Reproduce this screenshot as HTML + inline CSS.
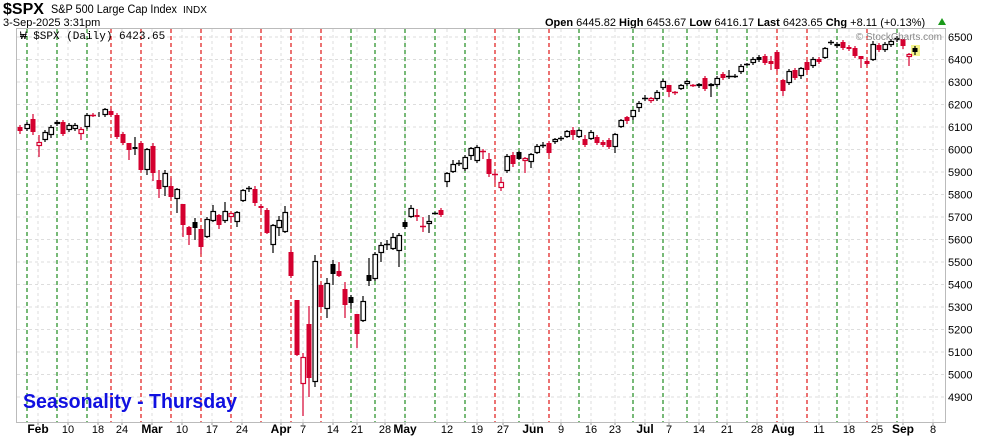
<!DOCTYPE html>
<html><head><meta charset="utf-8"><style>
html,body{margin:0;padding:0;background:#fff;}
svg{display:block;font-family:"Liberation Sans",Arial,sans-serif;}
</style></head><body>
<svg id="c" width="990" height="438" xmlns="http://www.w3.org/2000/svg">
<rect width="990" height="438" fill="#fff"/>
<text x="3" y="14" font-size="16" font-weight="bold">$SPX</text>
<text x="51" y="13" font-size="11.5" textLength="126" lengthAdjust="spacingAndGlyphs">S&amp;P 500 Large Cap Index</text>
<text x="183" y="13" font-size="10">INDX</text>
<text x="3" y="26" font-size="11">3-Sep-2025 3:31pm</text>
<text x="545" y="26" font-size="11"><tspan font-weight="bold">Open</tspan> 6445.82 <tspan font-weight="bold">High</tspan> 6453.67 <tspan font-weight="bold">Low</tspan> 6416.17 <tspan font-weight="bold">Last</tspan> 6423.65 <tspan font-weight="bold">Chg</tspan> +8.11 (+0.13%)</text>
<polygon points="938,25 946,25 942,18" fill="#1a9a1a"/>
<g id="grid"></g>
<g id="candles"></g>
<rect x="16.5" y="28.5" width="929" height="394" fill="none" stroke="#bbb"/>
<text x="20" y="39" font-size="11" font-family="Liberation Mono,monospace">₩ $SPX (Daily) 6423.65</text>
<text x="942" y="40" font-size="10" fill="#888" text-anchor="end">© StockCharts.com</text>
<text x="23" y="408" font-size="20" font-weight="bold" fill="#1010e0" textLength="214" lengthAdjust="spacingAndGlyphs">Seasonality - Thursday</text>
</svg>
<script>
var NS="http://www.w3.org/2000/svg";
function el(p,t,a,txt){var e=document.createElementNS(NS,t);for(var k in a)e.setAttribute(k,a[k]);if(txt)e.textContent=txt;p.appendChild(e);return e;}
var g=document.getElementById('grid'),svg=document.getElementById('c');
function Y(p){return 37+(6500-p)*0.225;}
for(var p=4900;p<=6500;p+=100){var y=Y(p);el(g,'line',{x1:17,x2:945,y1:y,y2:y,stroke:'#ddd','stroke-dasharray':'3,3'});
el(svg,'text',{x:948,y:y+4,'font-size':11},String(p));}
var labs=[[38,'Feb',1],[68,'10'],[98,'18'],[122,'24'],[152,'Mar',1],[182,'10'],[212,'17'],[242,'24'],[281,'Apr',1],[303,'7'],[333,'14'],[357,'21'],[385,'28'],[405,'May',1],[447,'12'],[477,'19'],[503,'27'],[533,'Jun',1],[561,'9'],[591,'16'],[615,'23'],[645,'Jul',1],[669,'7'],[699,'14'],[727,'21'],[757,'28'],[783,'Aug',1],[819,'11'],[849,'18'],[877,'25'],[903,'Sep',1],[933,'8']];
labs.forEach(function(l){el(g,'line',{x1:l[0],x2:l[0],y1:29,y2:422,stroke:'#ddd','stroke-dasharray':'3,3'});
el(svg,'text',{x:l[0],y:433,'font-size':l[2]?12:11,'font-weight':l[2]?'bold':'normal','text-anchor':'middle'},l[1]);
el(g,'line',{x1:l[0],x2:l[0],y1:422,y2:425,stroke:'#999'});});
var gr=[27,57,87,351,375,405,435,465,519,579,633,663,687,717,747,837,897],rd=[111,141,171,201,231,261,291,321,495,549,777,807,867];
gr.forEach(function(x){el(g,'line',{x1:x,x2:x,y1:29,y2:422,stroke:'#0a800a','stroke-dasharray':'4,3','stroke-width':1.1});});
rd.forEach(function(x){el(g,'line',{x1:x,x2:x,y1:29,y2:422,stroke:'#dd0000','stroke-dasharray':'4,3','stroke-width':1.1});});
var C=[
[20,127,131,'fr',125,134],[27,124,129,'hb'],[33,119,132,'fr',114,135],[39,142,146,'hr',135,157],[45,132,140,'hb',130,142],[51,127,135,'hb',125,138],[57,122,124,'hb'],[63,122,134,'fr'],[69,125,130,'hb'],[75,125,129,'hb'],[81,129,134,'hr',127,140],[87,115,127,'hb'],[93,115,115,'hr',113,117],[99,113,114,'hb',112,117],[105,109,115,'hb',108,117],
[111,111,115,'fr'],[117,115,137,'fr'],[123,134,143,'fr'],[129,143,150,'fr',143,160],[135,147,149,'fb',137,155],[141,143,170,'fr'],[147,149,170,'hb',148,175],[153,146,173,'fr',143,181],[159,180,189,'fr',170,198],[165,173,187,'hb',170,196],[171,186,197,'fr',178,199],[177,189,199,'hb',188,213],[183,204,225,'fr',204,237],[189,227,235,'fr',226,245],[195,222,228,'fb',218,240],[201,229,247,'fr',229,254],[207,219,237,'hb',217,238],[213,211,221,'hb',205,222],[219,215,225,'fr',214,229],[225,211,221,'hb',202,223],[231,213,217,'hr',213,223],[237,212,222,'hb',211,227],[243,190,201,'hb',189,202],[249,188,188,'fb',186,192],[255,189,203,'fr',186,206],[261,206,208,'fr',204,212],[267,210,233,'fr',208,234],[273,225,245,'hb',224,253],[279,220,228,'hb',216,236],[285,212,232,'hb',206,233],
[291,252,276,'fr'],[297,300,355,'fr',300,356],[303,357,384,'hr',353,416],[309,324,378,'fr',306,397],[315,261,382,'hb',255,387],[321,285,307,'fr'],[327,283,309,'hb',278,318],[333,264,274,'fb',260,285],[339,271,276,'fr',262,277],[345,289,305,'fr',282,318],[351,297,303,'fb',295,309],[357,314,334,'fr',314,348],[363,301,321,'hb',296,322],[369,275,281,'fb',258,286],[375,254,279,'hb'],[381,245,253,'hb',242,262],[387,244,244,'fb',240,250],[393,237,249,'hb',233,250],[399,235,251,'hb',233,267],[405,222,227,'fb'],[411,208,217,'hb',205,218],[417,215,217,'fr',209,221],[423,226,226,'hr',217,232],[429,221,224,'hb',215,233],[435,213,213,'fb',212,214],[441,210,215,'fr',208,217],
[447,173,182,'hb',172,187],[453,164,172,'hb',160,173],[459,163,163,'fb',160,166],[465,157,169,'hb'],[471,148,156,'hb',147,160],[477,147,161,'hb'],[483,151,151,'fr',149,159],[489,159,174,'fr',153,177],[495,174,174,'fr',172,183],[501,182,188,'hr',177,191],[507,156,171,'hb'],[513,155,164,'fr',152,167],[519,152,159,'fb',151,160],[525,158,161,'hr',157,173],[531,154,162,'hb',153,168],[537,146,153,'hb',144,154],[543,145,145,'fb',142,148],[549,143,153,'fr'],[555,139,142,'hb',138,144],[561,138,138,'fb',136,141],[567,131,137,'hb',130,138],[573,130,135,'fr',127,140],[579,130,137,'hb',129,138],[585,139,145,'fr',135,147],[591,132,139,'hb',130,140],[597,137,143,'fr'],[603,142,145,'fr'],[609,140,147,'fr'],[615,134,147,'hb',133,153],
[621,120,127,'hb',119,128],[627,117,121,'fr',116,124],[633,110,117,'hb',110,120],[639,103,108,'hb',101,112],[645,98,98,'fb',95,101],[651,98,101,'hr',97,103],[657,92,99,'hb'],[663,81,88,'hb'],[669,85,92,'fr',85,97],[675,92,92,'fr',91,95],[681,85,89,'hb',84,90],[687,81,84,'hb',80,86],[693,85,85,'fr',84,87],[699,84,86,'hb',83,88],[705,78,89,'fr'],[711,84,86,'hb',83,97],[717,78,85,'hb'],[723,74,78,'fr'],[729,76,76,'fb',70,79],[735,76,76,'fb',74,78],[741,66,72,'hb'],[747,64,64,'fb',63,66],[753,59,63,'hb'],[759,57,60,'fb'],[765,56,63,'fr'],[771,61,64,'fr',56,70],[777,52,69,'fr'],[783,80,91,'fr',79,96],[789,71,83,'hb'],[795,70,78,'fr'],[801,68,76,'hb',67,79],[807,62,70,'fr'],[813,59,66,'hb'],[819,59,62,'fr'],[825,48,58,'hb',47,59],[831,42,42,'fb',40,45],[837,44,46,'hb'],[843,42,48,'fr'],[849,47,49,'fr'],[855,48,56,'fr'],[861,56,59,'fr',56,68],[867,61,64,'fr'],[873,44,60,'hb',41,61],[879,45,50,'fr'],[885,44,50,'hb'],[891,41,45,'hb'],[897,38,40,'hb'],[903,39,46,'fr',39,49],[909,54,57,'hr',53,66],[915,48,52,'fb',46,55]
];
var cg=document.getElementById('candles');
el(cg,'rect',{x:911,y:45,width:9,height:11,fill:'#f4f48a'});
C.forEach(function(c){var x=c[0],t=c[1],b=c[2],ty=c[3],hi=c.length>4?c[4]:t-2,lo=c.length>5?c[5]:b+2;
var col=ty[1]=='r'?'#d4002f':'#000';
el(cg,'line',{x1:x,x2:x,y1:hi,y2:lo,stroke:col,'stroke-width':1.2});
if(b-t<1){el(cg,'line',{x1:x-3,x2:x+3,y1:t+0.5,y2:t+0.5,stroke:col,'stroke-width':1.5});return;}
if(ty[0]=='f')el(cg,'rect',{x:x-2.5,y:t,width:5,height:b-t,fill:col});
else el(cg,'rect',{x:x-2,y:t+0.5,width:4.5,height:b-t-1,fill:'#fff',stroke:col,'stroke-width':1.2});});
</script>
</body></html>
